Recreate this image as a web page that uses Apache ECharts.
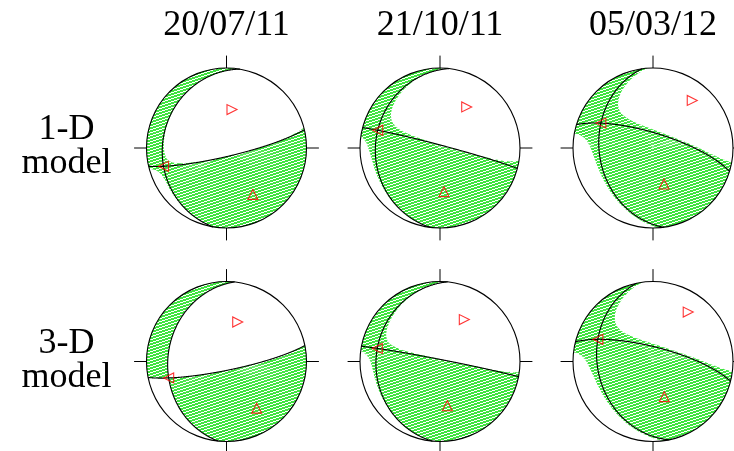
<!DOCTYPE html>
<html>
<head>
<meta charset="utf-8">
<script src="https://cdn.jsdelivr.net/npm/echarts@6/dist/echarts.min.js"></script>
<style>
  html, body { margin: 0; padding: 0; background: #ffffff; }
  #chart { width: 734px; height: 451px; }
</style>
</head>
<body>
<div id="chart"></div>
<script>
// Event dates (columns) and velocity models (rows)
const eventDates = ['20/07/11', '21/10/11', '05/03/12'];
const velocityModels = ['1-D', '3-D'];

// Principal axes of each moment tensor, row-major (1-D row first), degrees
const tAxisAzimuth = [150.4, 174.8, 163.0, 147.1, 170.6, 162.2];
const tAxisPlunge  = [33.7, 44.4, 51.1, 31.2, 43.3, 51.9];
const pAxisAzimuth = [9.7, 33.5, 39.9, 17.1, 30.4, 35.6];
const pAxisPlunge  = [51.5, 39.4, 24.5, 48.4, 39.7, 25.3];
// Eigenvalues relative to the T-axis eigenvalue (= 1)
const bEigenvalue  = [0.02, 0.09, 0.13, 0.0, 0.05, 0.14];
const pEigenvalue  = [-1.0, -1.02, -0.9, -1.0, -1.0, -0.9];

// ---- vector helpers (E, N, Down) ----
const DEG = Math.PI / 180;
function axisVector(az, pl) {
  az *= DEG; pl *= DEG;
  return [Math.cos(pl) * Math.sin(az), Math.cos(pl) * Math.cos(az), Math.sin(pl)];
}
function dot(a, b) { return a[0] * b[0] + a[1] * b[1] + a[2] * b[2]; }
function cross(a, b) {
  return [a[1] * b[2] - a[2] * b[1], a[2] * b[0] - a[0] * b[2], a[0] * b[1] - a[1] * b[0]];
}
function unit(a) { const l = Math.hypot(a[0], a[1], a[2]); return [a[0] / l, a[1] / l, a[2] / l]; }
function lower(v) { return v[2] < 0 ? [-v[0], -v[1], -v[2]] : v; }
// Lambert equal-area projection of the lower hemisphere onto the unit disc
function project(v) {
  const d = Math.max(0, v[2]);
  const s = Math.sqrt(1 + d);
  return [v[0] / s, v[1] / s];
}
function unproject(x, y) {
  const r2 = x * x + y * y, r = Math.sqrt(r2);
  if (r === 0) return [0, 0, 1];
  const d = 1 - r2, h = Math.sqrt(Math.max(0, 1 - d * d));
  return [h * x / r, h * y / r, d];
}

// ---- focal mechanisms ----
const mechanisms = tAxisAzimuth.map((_, i) => {
  const t = axisVector(tAxisAzimuth[i], tAxisPlunge[i]);
  let p = axisVector(pAxisAzimuth[i], pAxisPlunge[i]);
  const k = dot(p, t);
  p = unit([p[0] - k * t[0], p[1] - k * t[1], p[2] - k * t[2]]);
  const b = lower(cross(t, p));
  return { t: t, p: p, b: b, lb: bEigenvalue[i], lp: pEigenvalue[i] };
});

function nodalPlane(n) {
  const u1 = unit([n[1], -n[0], 0]);
  const u2 = lower(cross(n, u1));
  const pts = [];
  for (let k = 0; k <= 360; k++) {
    const a = k * 0.5 * DEG, c = Math.cos(a), s = Math.sin(a);
    pts.push(project([c * u1[0] + s * u2[0], c * u1[1] + s * u2[1], c * u1[2] + s * u2[2]]));
  }
  return pts;
}

// Polar wedges of the disc where the radiation pattern is compressional
function compressionWedges(m) {
  const NA = 720, NR = 240, out = [];
  for (let k = 0; k < NA; k++) {
    const a = (k + 0.5) / NA * 2 * Math.PI;
    let start = -1;
    for (let j = 0; j <= NR; j++) {
      let pos = false;
      if (j < NR) {
        const r = (j + 0.5) / NR;
        const v = unproject(r * Math.sin(a), r * Math.cos(a));
        const ft = dot(v, m.t), fb = dot(v, m.b), fp = dot(v, m.p);
        pos = ft * ft + m.lb * fb * fb + m.lp * fp * fp > 0;
      }
      if (pos && start < 0) start = j;
      if (!pos && start >= 0) {
        out.push([k / NA * 2 * Math.PI, (k + 1) / NA * 2 * Math.PI, start / NR, j / NR]);
        start = -1;
      }
    }
  }
  return out;
}

const balls = mechanisms.map(m => ({
  wedges: compressionWedges(m),
  planes: [
    nodalPlane(unit([m.t[0] + m.p[0], m.t[1] + m.p[1], m.t[2] + m.p[2]])),
    nodalPlane(unit([m.t[0] - m.p[0], m.t[1] - m.p[1], m.t[2] - m.p[2]]))
  ],
  markers: [
    { value: project(lower(m.t)), symbolRotate: 0 },
    { value: project(lower(m.p)), symbolRotate: -90 },
    { value: project(lower(m.b)), symbolRotate: 90 }
  ]
}));

// Green hatch fill
function hatchPattern() {
  const c = document.createElement('canvas');
  c.width = 9; c.height = 3;
  const g = c.getContext('2d');
  g.fillStyle = '#3fe43f';
  g.fillRect(0, 0, 9, 3);
  g.fillStyle = '#ffffff';
  g.fillRect(6, 0, 3, 1);
  g.fillRect(3, 1, 3, 1);
  g.fillRect(0, 2, 3, 1);
  return c;
}
const hatch = hatchPattern();

// ---- layout ----
const colCenters = [226.5, 440, 653];
const rowCenters = [148, 361.5];
const R = 80;
const FONT = '36px "Liberation Serif", "Times New Roman", serif';

const grids = [], xAxes = [], yAxes = [], series = [];
balls.forEach((ball, i) => {
  const row = Math.floor(i / 3), col = i % 3;
  grids.push({ left: colCenters[col] - R, top: rowCenters[row] - R, width: 2 * R, height: 2 * R });
  xAxes.push({ type: 'value', gridIndex: i, min: -1, max: 1, show: false });
  yAxes.push({ type: 'value', gridIndex: i, min: -1, max: 1, show: false });

  series.push({
    type: 'custom',
    xAxisIndex: i, yAxisIndex: i,
    clip: false,
    silent: true,
    z: 2,
    data: [[0, 0]],
    renderItem: function (params, api) {
      const c = api.coord([0, 0]);
      const rad = api.coord([1, 0])[0] - c[0];
      let d = '';
      ball.wedges.forEach(w => {
        const a0 = w[0], a1 = w[1], r0 = w[2], r1 = w[3];
        const p1 = api.coord([r0 * Math.sin(a0), r0 * Math.cos(a0)]);
        const p2 = api.coord([r1 * Math.sin(a0), r1 * Math.cos(a0)]);
        const p3 = api.coord([r1 * Math.sin(a1), r1 * Math.cos(a1)]);
        const p4 = api.coord([r0 * Math.sin(a1), r0 * Math.cos(a1)]);
        d += 'M' + p1[0] + ' ' + p1[1] + 'L' + p2[0] + ' ' + p2[1] +
             'L' + p3[0] + ' ' + p3[1] + 'L' + p4[0] + ' ' + p4[1] + 'Z';
      });
      const children = [];
      if (d) {
        children.push({ type: 'path', shape: { pathData: d },
          style: { fill: { image: hatch, repeat: 'repeat' }, stroke: null } });
      }
      ball.planes.forEach(pl => {
        children.push({ type: 'polyline', shape: { points: pl.map(q => api.coord(q)) },
          style: { fill: null, stroke: '#000000', lineWidth: 1.1 } });
      });
      children.push({ type: 'circle', shape: { cx: c[0], cy: c[1], r: rad },
        style: { fill: null, stroke: '#000000', lineWidth: 1.1 } });
      [[0, 1], [1, 0], [0, -1], [-1, 0]].forEach(t => {
        const a = api.coord(t), b = api.coord([t[0] * 1.155, t[1] * 1.155]);
        children.push({ type: 'line', shape: { x1: a[0], y1: a[1], x2: b[0], y2: b[1] },
          style: { stroke: '#000000', lineWidth: 1 } });
      });
      return { type: 'group', children: children };
    }
  });

  series.push({
    type: 'scatter',
    xAxisIndex: i, yAxisIndex: i,
    z: 5,
    silent: true,
    symbol: 'triangle',
    symbolSize: 10,
    itemStyle: { color: 'rgba(255,255,255,0)', borderColor: '#ff0000', borderWidth: 1.1 },
    data: ball.markers
  });
});

const graphic = [];
eventDates.forEach((txt, i) => {
  graphic.push({ type: 'text', x: colCenters[i], y: 26,
    style: { text: txt, font: FONT, fill: '#000000', align: 'center', verticalAlign: 'middle',
             textAlign: 'center', textVerticalAlign: 'middle' } });
});
velocityModels.forEach((txt, r) => {
  const base = rowCenters[r];
  [[txt, base - 18], ['model', base + 16]].forEach(line => {
    graphic.push({ type: 'text', x: 66.5, y: line[1],
      style: { text: line[0], font: FONT, fill: '#000000', align: 'center', verticalAlign: 'middle',
               textAlign: 'center', textVerticalAlign: 'middle' } });
  });
});

const chart = echarts.init(document.getElementById('chart'), null, { renderer: 'canvas' });
chart.setOption({
  animation: false,
  backgroundColor: '#ffffff',
  grid: grids,
  xAxis: xAxes,
  yAxis: yAxes,
  series: series,
  graphic: graphic
});
</script>
</body>
</html>
